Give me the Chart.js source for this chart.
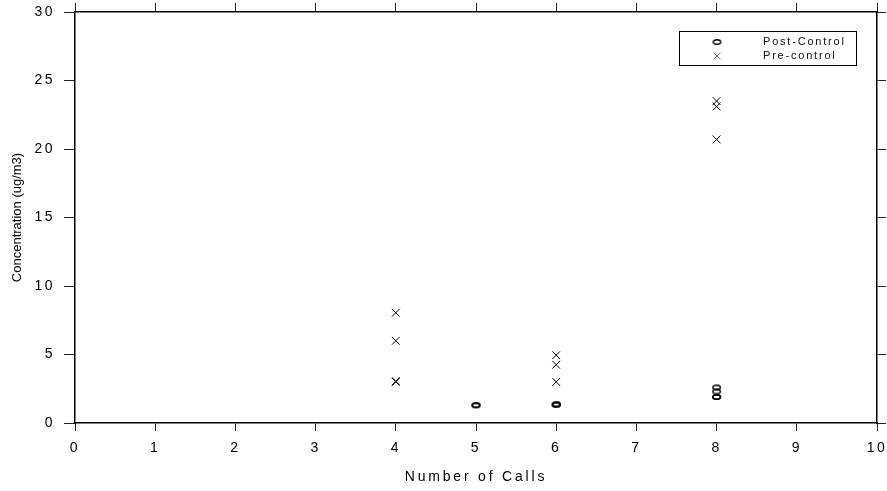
<!DOCTYPE html>
<html>
<head>
<meta charset="utf-8">
<script src="https://cdn.jsdelivr.net/npm/chart.js@4.4.1/dist/chart.umd.min.js"></script>
<style>
  html, body { margin: 0; padding: 0; background: #fff; }
  #wrap { width: 887px; height: 491px; }
</style>
</head>
<body>
<div id="wrap"><canvas id="callsChart"></canvas></div>
<script>
// values
var seriesNames = ["Post-Control", "Pre-control"];
var postCalls = [5, 5, 6, 6, 6, 8, 8, 8, 8];
var postConc  = [1.3, 1.3, 1.35, 1.35, 1.35, 2.6, 2.3, 1.9, 1.9];
var preCalls  = [4, 4, 4, 4, 6, 6, 6, 8, 8, 8];
var preConc   = [8.05, 6.0, 3.05, 3.0, 4.95, 4.25, 3.0, 23.5, 23.1, 20.7];
var xTickValues = [0, 1, 2, 3, 4, 5, 6, 7, 8, 9, 10];
var yTickValues = [0, 5, 10, 15, 20, 25, 30];

function toPoints(xs, ys) {
  return xs.map(function(x, i) { return { x: x, y: ys[i] }; });
}

// flat open ellipse used as the post-control marker
function makeEllipse() {
  var c = document.createElement('canvas');
  c.width = 11; c.height = 8;
  var g = c.getContext('2d');
  g.strokeStyle = '#000';
  g.lineWidth = 1.4;
  g.beginPath();
  g.ellipse(5.5, 4, 3.8, 2.3, 0, 0, Math.PI * 2);
  g.stroke();
  return c;
}
var ellipseMark = makeEllipse();

var fontFam = "'Liberation Sans', Arial, sans-serif";

function setTicks(values) {
  return function(scale) {
    scale.ticks = values.map(function(v) { return { value: v }; });
  };
}

function patchTitle(scale, spacing) {
  if (!scale || scale._spacingPatched) return;
  var orig = scale.drawTitle;
  scale.drawTitle = function() {
    var ctx = this.ctx;
    ctx.save();
    ctx.letterSpacing = spacing;
    orig.apply(this, arguments);
    ctx.restore();
  };
  scale._spacingPatched = true;
}

var spacingPlugin = {
  id: 'spacing',
  afterLayout: function(chart) {
    patchTitle(chart.scales.y, '0px');
    patchTitle(chart.scales.x, '2.8px');
  },
  beforeDraw: function(chart) {
    chart.ctx.letterSpacing = '2.5px';
  }
};

var boxLegend = {
  id: 'boxLegend',
  afterDraw: function(chart) {
    var ctx = chart.ctx;
    ctx.save();
    ctx.strokeStyle = '#000';
    ctx.lineWidth = 1;
    ctx.strokeRect(679.5, 31.5, 177, 34);
    ctx.drawImage(ellipseMark, 717 - 5.5, 42 - 4);
    ctx.strokeStyle = '#777';
    ctx.beginPath();
    ctx.moveTo(713.5, 52.5); ctx.lineTo(720.5, 59.5);
    ctx.moveTo(720.5, 52.5); ctx.lineTo(713.5, 59.5);
    ctx.stroke();
    ctx.fillStyle = '#111';
    ctx.font = '11px ' + fontFam;
    ctx.letterSpacing = '1.8px';
    ctx.textAlign = 'left';
    ctx.textBaseline = 'middle';
    ctx.fillText(seriesNames[0], 763, 42);
    ctx.fillText(seriesNames[1], 763, 56);
    ctx.restore();
  }
};

function axis(pos, min, max, values, opts) {
  var o = {
    type: 'linear',
    position: pos,
    min: min,
    max: max,
    afterBuildTicks: setTicks(values),
    border: { display: true, color: '#000', width: 1.5 },
    grid: { drawOnChartArea: false, drawTicks: true, color: '#222', lineWidth: 1, tickLength: opts.tickLength },
    ticks: { display: opts.labels, color: '#000', font: { family: fontFam, size: 14 }, padding: opts.padding || 0 },
    afterFit: function(s) {
      opts.fit(s);
      s.paddingLeft = 0; s.paddingRight = 0;
      s.paddingTop = 0; s.paddingBottom = 0;
    }
  };
  if (opts.title) {
    o.title = { display: true, text: opts.title, color: '#000', font: { family: fontFam, size: opts.titleSize }, padding: opts.titlePad };
  }
  return o;
}

var ctx = document.getElementById('callsChart').getContext('2d');
new Chart(ctx, {
  type: 'scatter',
  data: {
    datasets: [{
      label: seriesNames[0],
      data: toPoints(postCalls, postConc),
      pointStyle: ellipseMark,
      pointRadius: 4,
      borderColor: '#000',
      backgroundColor: '#000'
    }, {
      label: seriesNames[1],
      data: toPoints(preCalls, preConc),
      pointStyle: 'crossRot',
      pointRadius: 5.5,
      borderWidth: 1,
      borderColor: '#000',
      backgroundColor: '#000'
    }]
  },
  options: {
    responsive: true,
    maintainAspectRatio: false,
    animation: false,
    layout: { padding: 0 },
    plugins: { legend: { display: false }, tooltip: { enabled: false } },
    scales: {
      x: axis('bottom', 0, 10, xTickValues, {
        tickLength: 8, labels: true, padding: 9,
        title: 'Number of Calls', titleSize: 14, titlePad: { bottom: 5, top: 0 },
        fit: function(s) { s.height = 68; }
      }),
      y: axis('left', 0, 30, yTickValues, {
        tickLength: 11, labels: true, padding: 9,
        title: 'Concentration (ug/m3)', titleSize: 13, titlePad: { top: 10, bottom: 0 },
        fit: function(s) { s.width = 75; }
      }),
      x2: axis('top', 0, 10, xTickValues, {
        tickLength: 9, labels: false,
        fit: function(s) { s.height = 12; }
      }),
      y2: axis('right', 0, 30, yTickValues, {
        tickLength: 9, labels: false,
        fit: function(s) { s.width = 10; }
      })
    }
  },
  plugins: [spacingPlugin, boxLegend]
});
</script>
</body>
</html>
